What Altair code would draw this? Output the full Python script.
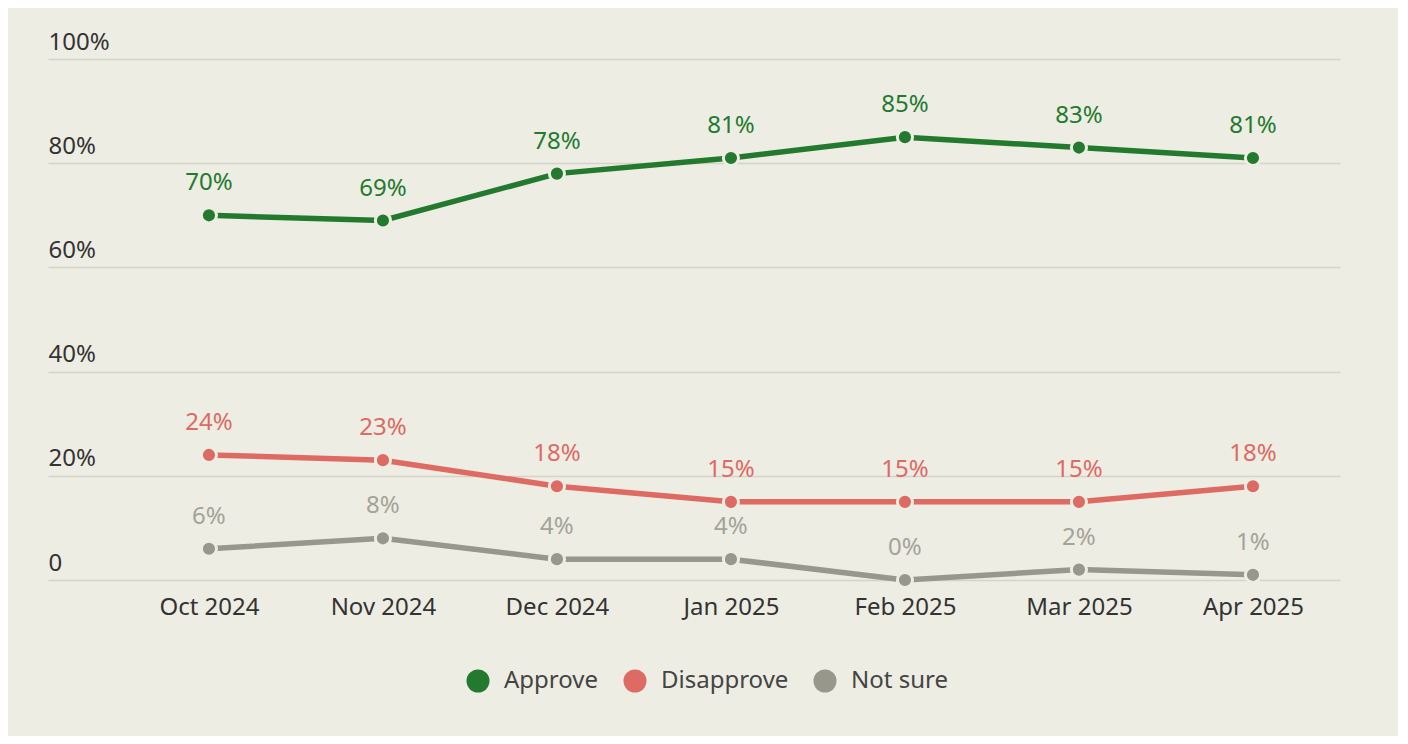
import altair as alt
import pandas as pd

months = ["Oct 2024", "Nov 2024", "Dec 2024", "Jan 2025", "Feb 2025", "Mar 2025", "Apr 2025"]
series_names = ["Approve", "Disapprove", "Not sure"]
approve = [70, 69, 78, 81, 85, 83, 81]
disapprove = [24, 23, 18, 15, 15, 15, 18]
not_sure = [6, 8, 4, 4, 0, 2, 1]
y_ticks = [0, 20, 40, 60, 80, 100]

rows = []
for name, vals in zip(series_names, [approve, disapprove, not_sure]):
    for m, v in zip(months, vals):
        rows.append({"month": m, "series": name, "value": v})
df = pd.DataFrame(rows)

BG = "#edede3"
GREEN = "#237a2f"
RED = "#dd6a63"
GRAY = "#97978b"
GRAY_TXT = "#a3a398"
FONT = "Noto Sans"

x_enc = alt.X(
    "month:O",
    sort=months,
    scale=alt.Scale(type="point", padding=0.7126, align=0.649),
    axis=alt.Axis(
        title=None, domain=False, ticks=False, labelPadding=15,
        labelFontSize=24, labelColor="#333333", labelFont=FONT, labelAngle=0,
        grid=False,
    ),
)
y_enc = alt.Y(
    "value:Q",
    scale=alt.Scale(domain=[0, 100], nice=False, zero=True),
    axis=alt.Axis(
        title=None, domain=False, ticks=False, values=y_ticks,
        labelAlign="left", labelBaseline="alphabetic", labelPadding=0, labelOffset=-10,
        labelFontSize=24, labelColor="#333333", labelFont=FONT,
        labelExpr="datum.value == 0 ? '0' : datum.value + '%'",
        labelOverlap=False, labelBound=False, labelFlush=False,
        grid=True, gridColor="#d4d4ca", gridWidth=1.5,
    ),
)

color_main = alt.Scale(domain=series_names, range=[GREEN, RED, GRAY])

base = alt.Chart(df)

lines = base.mark_line(strokeWidth=5.5).encode(
    x=x_enc, y=y_enc,
    color=alt.Color("series:N", scale=color_main, legend=None),
    detail="series:N",
)

points = base.mark_circle(size=230, opacity=1, stroke=BG, strokeWidth=3).encode(
    x=x_enc, y=y_enc,
    color=alt.Color(
        "series:N", scale=color_main,
        legend=alt.Legend(
            title=None, orient="none", direction="horizontal",
            legendX=418, legendY=610, padding=0,
            symbolType="circle", symbolSize=530, symbolStrokeWidth=0,
            symbolOpacity=1,
            labelFontSize=24, labelFont=FONT, labelColor="#444444",
            labelOffset=14, columnPadding=24,
        ),
    ),
)

labels = base.transform_calculate(label="datum.value + '%'").mark_text(
    fontSize=24, font=FONT, baseline="alphabetic", dy=-25, align="center"
).encode(
    x=x_enc, y=y_enc,
    text="label:N",
    color=alt.Color(
        "series:N",
        scale=alt.Scale(domain=series_names, range=[GREEN, RED, GRAY_TXT]),
        legend=None,
    ),
)

chart = (
    alt.layer(lines, points, labels)
    .resolve_scale(color="independent")
    .properties(
        width=1292, height=521,
        autosize=alt.AutoSizeParams(type="none"),
        padding={"left": 40, "top": 51, "right": 58, "bottom": 156},
        background=BG,
    )
    .configure_view(stroke=None)
)

chart.save("out.html", embed_options={"renderer": "svg", "actions": False})
